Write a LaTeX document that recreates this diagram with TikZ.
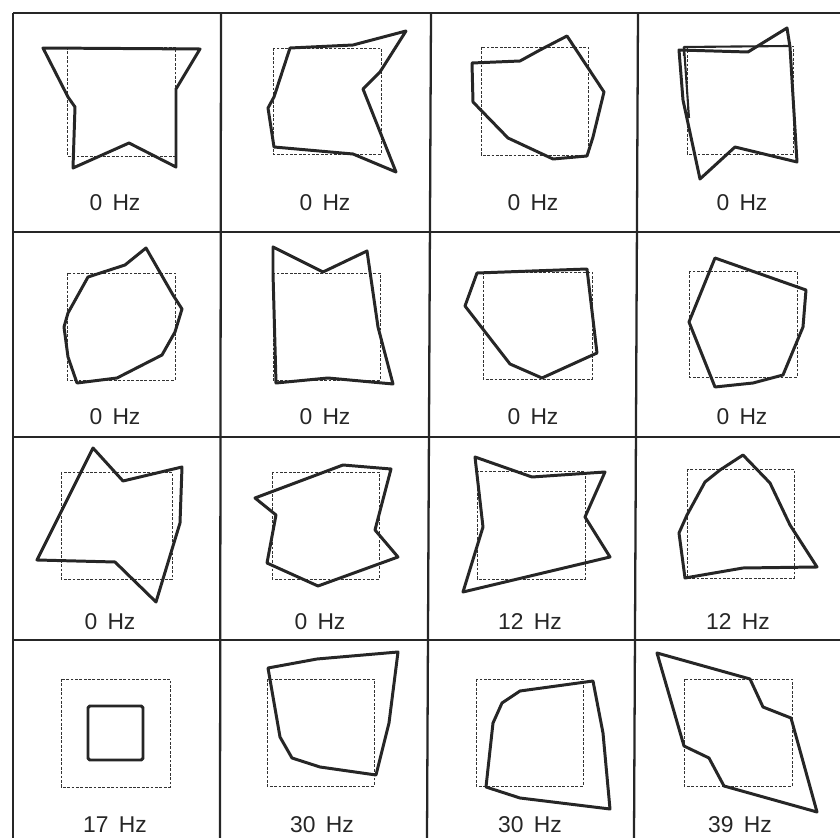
\documentclass[tikz,border=0pt]{standalone}
\usepackage{fontspec}
\setmainfont{Liberation Sans}
\usetikzlibrary{positioning}
\tikzset{
  gridline/.style={line width=1.3pt, black!85},
  refbox/.style={line width=0.5pt, black!80, dash pattern=on 1.6pt off 0.9pt},
  modeline/.style={line width=1.7pt, black!85, line join=round},
  hzlabel/.style={font=\fontsize{13}{15}\selectfont, text=black!85}
}
\newcommand{\hz}[1]{#1\hspace{0.45em}Hz}
\begin{document}
\begin{tikzpicture}[x=0.02cm, y=-0.02cm]
    \useasboundingbox (0,0) rectangle (840,838);

    % --- GRID ---
    \draw[gridline] (13,13) -- (840,13);
    \draw[gridline] (13,13) -- (13,840);
    \draw[gridline] (221,13) -- (220,840);
    \draw[gridline] (431,13) -- (427,840);
    \draw[gridline] (638,13) -- (634,840);
    \draw[gridline] (13,232) -- (840,232);
    \draw[gridline] (13,437) -- (840,437);
    \draw[gridline] (13,640) -- (840,640);

    % --- ROW 1 ---
    \draw[refbox] (67,47) rectangle (175,156);
    \draw[modeline] (43,48) -- (200,49) -- (176,89) -- (176,167) -- (129,143) -- (73,168) -- (75,107) -- (68,97) -- cycle;
    \node[hzlabel] (m1) at (115,203) {\hz{0}};

    \draw[refbox] (273,48) rectangle (381,154);
    \draw[modeline] (290,48) -- (353,45) -- (406,31) -- (380,72) -- (363,89) -- (396,172) -- (353,154) -- (274,147) -- (268,108) -- (274,97) -- cycle;
    \node[hzlabel] (m2) at (325,203) {\hz{0}};

    \draw[refbox] (481,47) rectangle (588,155);
    \draw[modeline] (472,63) -- (520,61) -- (540,50) -- (567,36) -- (604,92) -- (593,137) -- (587,156) -- (553,159) -- (508,138) -- (473,102) -- cycle;
    \node[hzlabel] (m3) at (533,203) {\hz{0}};

    \draw[refbox] (687,46) rectangle (793,154);
    \draw[modeline] (679,50) -- (748,52) -- (787,28) -- (790,47) -- (797,162) -- (735,147) -- (700,179) -- (683,100) -- cycle;
    \draw[modeline, line width=1.2pt] (684,56) -- (684,47) -- (789,46);
    \draw[modeline, line width=1.2pt] (684,47) -- (689,118);
    \node[hzlabel] (m4) at (742,203) {\hz{0}};

    % --- ROW 2 ---
    \draw[refbox] (67,273) rectangle (175,380);
    \draw[modeline] (146,248) -- (173,295) -- (182,309) -- (175,332) -- (162,355) -- (117,378) -- (77,383) -- (68,357) -- (64,327) -- (68,313) -- (88,277) -- (125,265) -- cycle;
    \node[hzlabel] (m5) at (115,417) {\hz{0}};

    \draw[refbox] (273,273) rectangle (380,380);
    \draw[modeline] (273,247) -- (323,272) -- (367,251) -- (378,327) -- (393,384) -- (328,378) -- (276,383) -- (273,273) -- cycle;
    \node[hzlabel] (m6) at (325,417) {\hz{0}};

    \draw[refbox] (483,272) rectangle (592,379);
    \draw[modeline] (477,273) -- (587,269) -- (597,353) -- (542,378) -- (510,364) -- (465,306) -- cycle;
    \node[hzlabel] (m7) at (533,417) {\hz{0}};

    \draw[refbox] (689,271) rectangle (797,377);
    \draw[modeline] (715,258) -- (806,290) -- (803,327) -- (783,375) -- (753,383) -- (715,387) -- (689,322) -- cycle;
    \node[hzlabel] (m8) at (742,417) {\hz{0}};

    % --- ROW 3 ---
    \draw[refbox] (61,472) rectangle (172,579);
    \draw[modeline] (93,448) -- (123,481) -- (182,467) -- (180,523) -- (156,602) -- (115,562) -- (37,560) -- cycle;
    \node[hzlabel] (m9) at (110,622) {\hz{0}};

    \draw[refbox] (272,472) rectangle (379,579);
    \draw[modeline] (343,465) -- (391,469) -- (375,530) -- (398,557) -- (318,586) -- (267,563) -- (276,515) -- (255,498) -- cycle;
    \node[hzlabel] (m10) at (320,622) {\hz{0}};

    \draw[refbox] (477,471) rectangle (585,579);
    \draw[modeline] (475,457) -- (532,477) -- (605,472) -- (585,517) -- (610,557) -- (463,592) -- (483,527) -- cycle;
    \node[hzlabel] (m11) at (530,622) {\hz{12}};

    \draw[refbox] (687,469) rectangle (794,578);
    \draw[modeline] (743,455) -- (770,483) -- (790,525) -- (817,567) -- (743,568) -- (685,578) -- (679,533) -- (687,515) -- (705,482) -- (720,470) -- cycle;
    \node[hzlabel] (m12) at (738,622) {\hz{12}};

    % --- ROW 4 ---
    \draw[refbox] (61,679) rectangle (170,787);
    \draw[modeline, rounded corners=1pt] (88,706) rectangle (143,760);
    \node[hzlabel] (m13) at (115,825) {\hz{17}};

    \draw[refbox] (267,679) rectangle (374,786);
    \draw[modeline] (268,668) -- (317,659) -- (398,652) -- (389,723) -- (376,775) -- (320,767) -- (292,758) -- (280,737) -- cycle;
    \node[hzlabel] (m14) at (322,825) {\hz{30}};

    \draw[refbox] (476,679) rectangle (583,786);
    \draw[modeline] (486,787) -- (493,723) -- (502,703) -- (520,691) -- (593,681) -- (603,733) -- (610,809) -- (520,798) -- cycle;
    \node[hzlabel] (m15) at (530,825) {\hz{30}};

    \draw[refbox] (684,679) rectangle (792,786);
    \draw[modeline] (657,653) -- (750,679) -- (763,707) -- (791,718) -- (817,812) -- (724,786) -- (709,758) -- (684,746) -- cycle;
    \node[hzlabel] (m16) at (740,825) {\hz{39}};
\end{tikzpicture}
\end{document}
